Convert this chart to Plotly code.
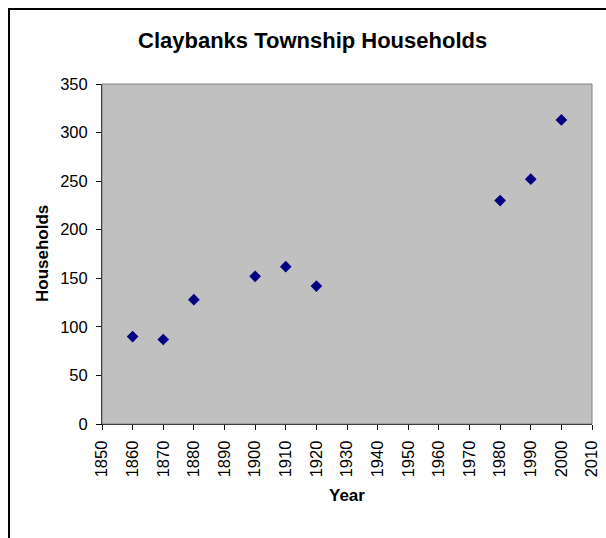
import plotly.graph_objects as go

# Census years and household counts for Claybanks Township
years = [1860, 1870, 1880, 1900, 1910, 1920, 1980, 1990, 2000]
households = [90, 87, 128, 152, 162, 142, 230, 252, 313]

x_ticks = list(range(1850, 2011, 10))
y_ticks = list(range(0, 351, 50))

W, H = 606, 538
L, R, T, B = 102, 14, 84, 114
pw, ph = W - L - R, H - T - B


def px_x(p):
    return (p - L) / pw


def px_y(p):
    return (H - B - p) / ph


font = "Liberation Sans, Arial, sans-serif"

fig = go.Figure(
    go.Scatter(
        x=years,
        y=households,
        mode="markers",
        marker=dict(symbol="diamond", size=9, color="#000080",
                    line=dict(width=0)),
        showlegend=False,
    )
)

fig.update_layout(
    width=W,
    height=H,
    margin=dict(l=L, r=R, t=T, b=B, pad=0, autoexpand=False),
    paper_bgcolor="white",
    plot_bgcolor="#C0C0C0",
    showlegend=False,
    font=dict(family=font, size=16.5, color="black"),
    annotations=[
        dict(text="<b>Claybanks Township Households</b>", x=px_x(312), y=px_y(40),
             xref="paper", yref="paper", showarrow=False,
             font=dict(size=22), xanchor="center", yanchor="middle"),
        dict(text="<b>Year</b>", x=px_x(347), y=px_y(495),
             xref="paper", yref="paper", showarrow=False,
             font=dict(size=17), xanchor="center", yanchor="middle"),
        dict(text="<b>Households</b>", x=px_x(42), y=px_y(254),
             xref="paper", yref="paper", showarrow=False, textangle=-90,
             font=dict(size=17), xanchor="center", yanchor="middle"),
    ],
    shapes=[
        # outer chart frame (right and bottom edges run past the page)
        dict(type="rect", xref="paper", yref="paper",
             x0=px_x(9), x1=px_x(640), y0=px_y(580), y1=px_y(9),
             line=dict(color="black", width=2), layer="below"),
        # plot area border (top and right)
        dict(type="rect", xref="paper", yref="paper",
             x0=0, x1=1, y0=0, y1=1,
             line=dict(color="#808080", width=1), layer="above"),
    ],
)

fig.update_xaxes(
    range=[1850, 2010],
    tickvals=x_ticks,
    ticktext=[str(v) for v in x_ticks],
    tickangle=-90,
    ticks="outside",
    ticklen=5,
    tickcolor="black",
    ticklabelstandoff=4,
    showline=True,
    linecolor="black",
    linewidth=1,
    showgrid=False,
    zeroline=False,
    automargin=False,
    tickfont=dict(size=16.5),
)
fig.update_yaxes(
    range=[0, 350],
    tickvals=y_ticks,
    ticks="outside",
    ticklen=5,
    tickcolor="black",
    ticklabelstandoff=5,
    showline=True,
    linecolor="black",
    linewidth=1,
    showgrid=False,
    zeroline=False,
    automargin=False,
    tickfont=dict(size=16.5),
)

fig.write_html("out.html")
